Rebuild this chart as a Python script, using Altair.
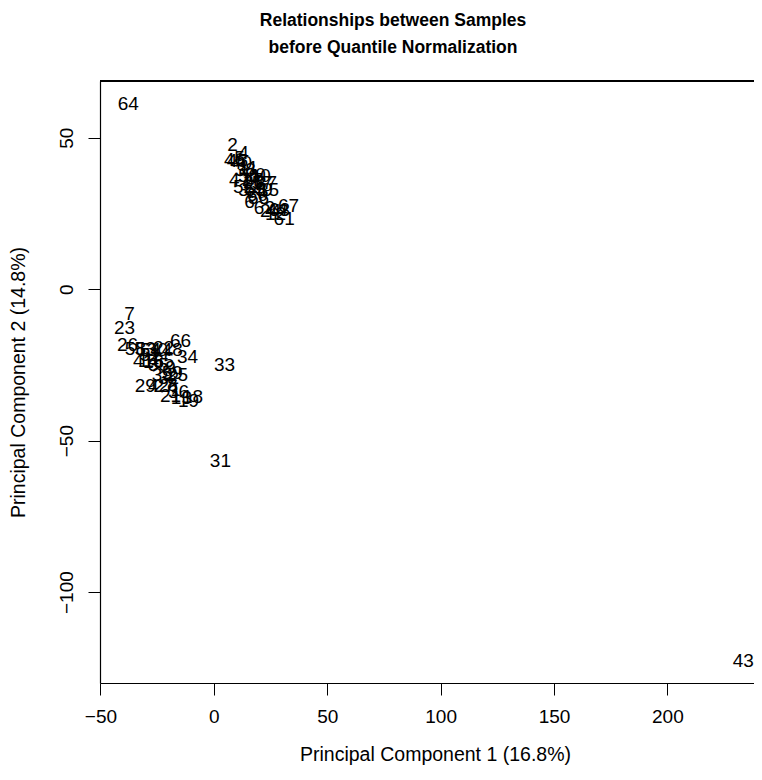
import altair as alt
import pandas as pd

labels = [2, 4, 46, 45, 40, 5, 50, 20, 10, 47, 57, 37, 52, 15, 3, 55, 60, 6, 62, 24,
          67, 44, 63, 61, 12, 28, 49, 56, 38, 11, 17,
          7, 23, 26, 58, 53, 54, 30, 22, 48, 66, 34, 41, 14, 16, 35, 65, 9, 39, 59,
          25, 32, 29, 42, 27, 8, 1, 21, 13, 18, 19, 36, 33, 31, 64, 43, 51]
pc1 = [8.2, 13.1, 9.1, 10.4, 12.2, 11.3, 15.3, 18.3, 20.5, 11.3, 21.4, 23.2, 13.1, 24.1, 13.1, 18.3, 19.2, 15.7, 22.3, 25.0,
       32.9, 28.0, 28.9, 31.0, 27.2, 17.5, 21.4, 19.7, 13.9, 15.3, 17.0,
       -37.2, -39.4, -38.1, -34.6, -30.3, -28.0, -24.9, -22.2, -18.3, -14.7, -11.6, -31.0, -28.8, -26.6, -24.4, -22.2, -19.1, -22.7, -18.3,
       -16.0, -20.0, -30.2, -24.4, -21.8, -18.3, -16.9, -19.1, -14.3, -9.4, -11.2, -15.6, 4.7, 2.9, -37.7, 233.5, -28.0]
pc2 = [47.5, 44.9, 42.6, 42.2, 41.6, 43.2, 37.3, 37.6, 37.3, 36.0, 35.0, 35.0, 33.7, 32.7, 32.7, 32.7, 31.0, 28.7, 26.7, 25.7,
       27.4, 26.1, 26.1, 23.1, 24.7, 35.3, 32.7, 30.0, 39.3, 39.9, 36.0,
       -8.2, -12.9, -18.5, -19.8, -19.8, -20.1, -20.1, -19.5, -20.1, -17.2, -22.4, -23.8, -23.8, -24.1, -25.1, -23.8, -26.1, -28.4, -27.7,
       -28.4, -29.4, -32.0, -32.0, -32.0, -31.7, -33.3, -35.3, -36.0, -35.6, -37.0, -34.0, -25.1, -56.7, 61.0, -122.7, -21.8]

x_ticks = [-50, 0, 50, 100, 150, 200]
y_ticks = [-100, -50, 0, 50]

df = pd.DataFrame({"label": [str(v) for v in labels], "pc1": pc1, "pc2": pc2})

W, H = 654, 602
FONT = "Liberation Sans"

points = alt.Chart(df).mark_text(
    fontSize=19, font=FONT, color="black", align="center", baseline="middle"
).encode(
    x=alt.X("pc1:Q", scale=alt.Scale(domain=[-50.2, 238.2], nice=False, zero=False),
            axis=alt.Axis(values=x_ticks, title="Principal Component 1 (16.8%)",
                          grid=False, domainColor="black", domainWidth=1.2,
                          tickColor="black", tickSize=12, tickWidth=1,
                          labelFont=FONT, labelFontSize=19, labelColor="black",
                          labelPadding=12, labelFlush=False,
                          titleFont=FONT, titleFontSize=19.5, titleFontWeight="normal",
                          titleColor="black", titleX=335, titleY=71,
                          titleBaseline="middle", titleAnchor="middle")),
    y=alt.Y("pc2:Q", scale=alt.Scale(domain=[-130, 68.7], nice=False, zero=False),
            axis=alt.Axis(values=y_ticks, title="Principal Component 2 (14.8%)",
                          grid=False, domainColor="black", domainWidth=1.2,
                          tickColor="black", tickSize=12, tickWidth=1,
                          labelFont=FONT, labelFontSize=19, labelColor="black",
                          labelAngle=-90, labelAlign="center", labelBaseline="bottom",
                          labelPadding=12, labelFlush=False,
                          titleFont=FONT, titleFontSize=19.5, titleFontWeight="normal",
                          titleColor="black", titleX=-82, titleY=301,
                          titleBaseline="middle", titleAnchor="middle", titleAngle=-90)),
    text="label:N",
)

top_border = alt.Chart(df).mark_rule(color="black", strokeWidth=1.2).encode(
    x=alt.value(0), x2=alt.value(W), y=alt.value(0)
)

chart = alt.layer(points, top_border).properties(
    width=W, height=H,
    title=alt.TitleParams(
        text=["Relationships between Samples", "before Quantile Normalization"],
        font=FONT, fontSize=17.5, fontWeight="bold", color="black",
        anchor="middle", dx=-34, offset=24, lineHeight=27,
    ),
    autosize=alt.AutoSizeParams(type="none"),
    padding={"left": 92, "top": 73, "right": 0, "bottom": 84},
).configure_view(stroke=None)

chart.save("out.html", embed_options={"renderer": "svg", "actions": False})
